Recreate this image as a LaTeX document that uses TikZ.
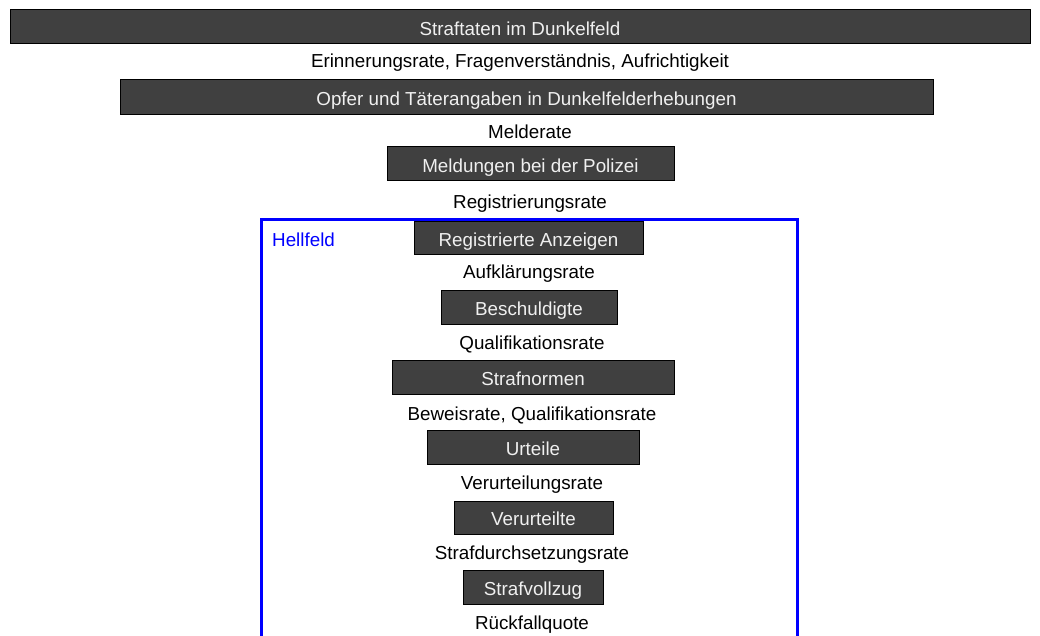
\documentclass[tikz,border=0pt]{standalone}
\usepackage{fontspec}
\setmainfont{Liberation Sans}
\definecolor{boxgrau}{RGB}{64,64,64}
\tikzset{
  stufe/.style={draw=black, line width=1pt, fill=boxgrau, text=white!94!black,
    inner sep=0pt, text height=16.5pt, text depth=0pt, font=\fontsize{18.8}{21}\selectfont},
  rate/.style={inner sep=0pt, font=\fontsize{18.8}{21}\selectfont},
}
\begin{document}
\begin{tikzpicture}[x=1pt,y=-1pt]  % Koordinaten in Pixeln, y nach unten

    \useasboundingbox (0,0) rectangle (1040,636);

    % Dunkelfeld
    \node[stufe, minimum width=1020, minimum height=34] (straftaten) at (520,27) {Straftaten im Dunkelfeld};
    \node[rate] (erinnerung) at (520,63) {Erinnerungsrate, Fragenverständnis, Aufrichtigkeit};
    \node[stufe, minimum width=813, minimum height=35] (opfer) at (526.5,97.5) {Opfer und Täterangaben in Dunkelfelderhebungen};
    \node[rate] (melderate) at (530,132) {Melderate};
    \node[stufe, minimum width=287, minimum height=34] (meldungen) at (530.5,164) {Meldungen bei der Polizei};
    \node[rate] (registrierung) at (530,204) {Registrierungsrate};

    % Hellfeld (Rahmen nach unten offen)
    \draw[blue, line width=3pt] (261,640) -- (261,220) -- (797,220) -- (797,640);
    \node[rate, anchor=west, text=blue] (hellfeld) at (272,240) {Hellfeld};

    % Stufen im Hellfeld
    \node[stufe, minimum width=229, minimum height=32] (anzeigen) at (528.5,238) {Registrierte Anzeigen};
    \node[rate] (aufklaerung) at (529,274) {Aufklärungsrate};
    \node[stufe, minimum width=176, minimum height=34] (beschuldigte) at (529,307) {Beschuldigte};
    \node[rate] (qualifikation) at (532,344) {Qualifikationsrate};
    \node[stufe, minimum width=282, minimum height=34] (strafnormen) at (533,377) {Strafnormen};
    \node[rate] (beweis) at (532,415) {Beweisrate, Qualifikationsrate};
    \node[stufe, minimum width=212, minimum height=34] (urteile) at (533,447) {Urteile};
    \node[rate] (verurteilung) at (532,485) {Verurteilungsrate};
    \node[stufe, minimum width=159, minimum height=33] (verurteilte) at (533.5,517.5) {Verurteilte};
    \node[rate] (durchsetzung) at (532,555) {Strafdurchsetzungsrate};
    \node[stufe, minimum width=140, minimum height=34] (vollzug) at (533,587) {Strafvollzug};
    \node[rate] (rueckfall) at (532,625) {Rückfallquote};

\end{tikzpicture}
\end{document}
